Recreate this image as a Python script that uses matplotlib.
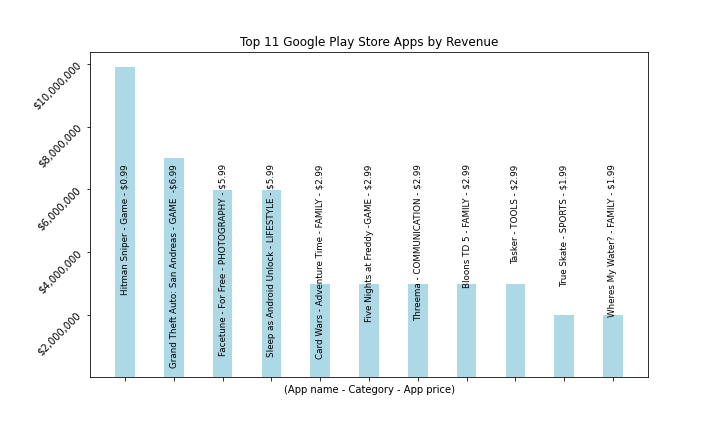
import matplotlib
matplotlib.use('Agg')
import matplotlib.pyplot as plt
import matplotlib.ticker as mticker

apps = ['Hitman Sniper - Game - $0.99',
        'Grand Theft Auto: San Andreas - GAME  -$6.99',
        'Facetune - For Free - PHOTOGRAPHY - $5.99',
        'Sleep as Android Unlock - LIFESTYLE - $5.99',
        'Card Wars - Adventure Time - FAMILY - $2.99',
        'Five Nights at Freddy -GAME - $2.99',
        'Threema - COMMUNICATION - $2.99',
        'Bloons TD 5 - FAMILY - $2.99',
        'Tasker - TOOLS - $2.99',
        'True Skate - SPORTS - $1.99',
        'Wheres My Water? - FAMILY - $1.99']
revenue = [9900000, 6990000, 5990000, 5990000, 2990000, 2990000,
           2990000, 2990000, 2990000, 1990000, 1990000]

fig = plt.figure(figsize=(10, 6), dpi=72)
ax = fig.add_axes([0.125, 0.127, 0.775, 0.753])

x = list(range(len(apps)))
ax.bar(x, revenue, width=0.4, color='lightblue')

for i, name in enumerate(apps):
    ax.text(i, 6800000, name, rotation=90, ha='center', va='top', fontsize=8.8)

ax.set_xticks(x)
ax.tick_params(axis='x', labelbottom=False)
ax.set_yticks([2000000, 4000000, 6000000, 8000000, 10000000])
ax.yaxis.set_major_formatter(mticker.StrMethodFormatter('${x:,.0f}'))
plt.setp(ax.get_yticklabels(), rotation=45)
ax.set_xlabel('(App name - Category - App price)')
ax.set_title('Top 11 Google Play Store Apps by Revenue')

fig.savefig('out.png')
